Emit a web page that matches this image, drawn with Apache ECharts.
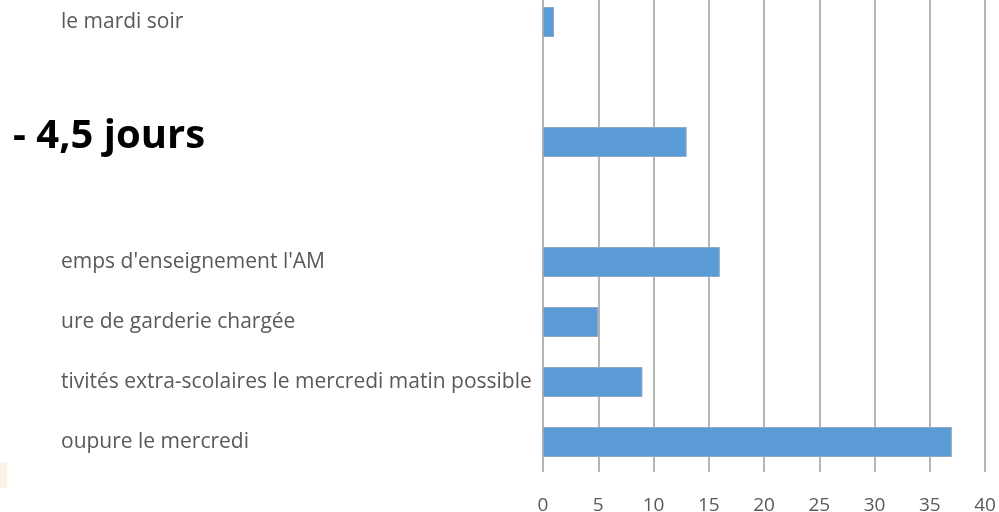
<!DOCTYPE html>
<html>
<head>
<meta charset="utf-8">
<script src="https://cdn.jsdelivr.net/npm/echarts@6/dist/echarts.min.js"></script>
<style>html,body{margin:0;padding:0;background:#fff}#c{width:999px;height:512px}</style>
</head>
<body>
<div id="c"></div>
<script>
const categories = ["le mardi soir", "", " ", "  ", "emps d'enseignement l'AM", "ure de garderie chargée", "tivités extra-scolaires le mercredi matin possible", "oupure le mercredi"];
const values = [1, 0, 13, 0, 16, 5, 9, 37];
const xTicks = { min: 0, max: 40, interval: 5 };
const overlayTitle = "- 4,5 jours";

const chart = echarts.init(document.getElementById('c'), null, { renderer: 'canvas' });
chart.setOption({
  animation: false,
  grid: { left: 543, right: 14, top: -8, height: 480, containLabel: false, outerBoundsMode: 'none' },
  xAxis: {
    type: 'value', min: xTicks.min, max: xTicks.max, interval: xTicks.interval,
    axisLine: { show: false }, axisTick: { show: false },
    splitLine: { show: true, lineStyle: { color: '#b5b5b5', width: 2 } },
    axisLabel: { color: '#595959', fontFamily: 'Open Sans', fontSize: 19, margin: 24 }
  },
  yAxis: {
    type: 'category', data: categories, inverse: true,
    axisLine: { show: false }, axisTick: { show: false },
    axisLabel: { color: '#595959', fontFamily: 'Open Sans', fontSize: 21, align: 'left', margin: 482 }
  },
  series: [{
    type: 'bar', barWidth: '50%',
    data: values.map(v => v === 0 ? { value: v, itemStyle: { borderWidth: 0 } } : v),
    itemStyle: { color: '#5b9bd5', borderColor: '#8ea9c4', borderWidth: 1 }
  }],
  graphic: [
    { type: 'text', x: 13, y: 137, style: { text: overlayTitle, font: 'bold 40px "Open Sans"', fill: '#000', verticalAlign: 'middle' }, z: 51 },
    { type: 'rect', x: 0, y: 462, shape: { width: 7, height: 26 }, style: { fill: '#f3d7b5', opacity: 0.35 }, z: 1 }
  ]
});
</script>
</body>
</html>
